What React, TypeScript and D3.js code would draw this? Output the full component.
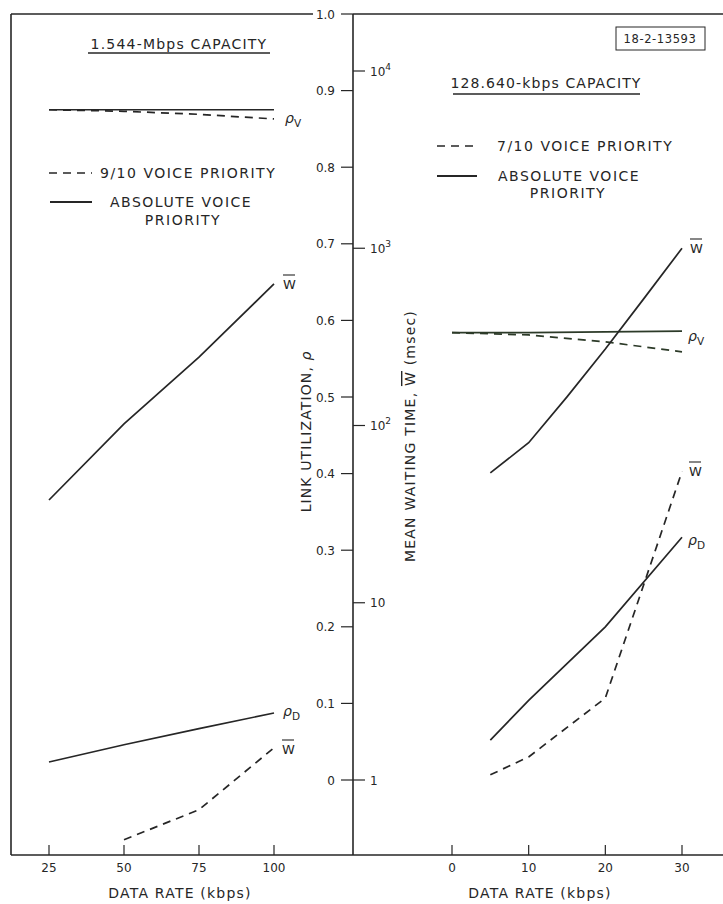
import React from "react";
import * as d3 from "d3";

// left panel: 1.544-Mbps capacity
const leftRate = [25, 50, 75, 100];
const leftRhoVAbs = [0.875, 0.875, 0.875, 0.875];
const leftRhoV910 = [0.875, 0.873, 0.869, 0.863];
const leftWAbs = [38, 102, 243, 629];
const leftRhoD = [0.0235, 0.046, 0.067, 0.0875];
const leftW910Rate = [50, 75, 100];
const leftW910 = [0.46, 0.68, 1.52];

// right panel: 128.640-kbps capacity
const rightRhoRate = [0, 10, 20, 30];
const rightRhoVAbs = [0.584, 0.584, 0.585, 0.586];
const rightRhoV710 = [0.584, 0.581, 0.572, 0.559];
const rightWRate = [5, 10, 15, 20, 25, 30];
const rightWAbs = [54, 80, 145, 270, 518, 1000];
const rightDRate = [5, 10, 20, 30];
const rightRhoD = [0.052, 0.104, 0.2, 0.317];
const rightW710 = [1.07, 1.35, 2.9, 55];

const leftTicks = [25, 50, 75, 100];
const rightTicks = [0, 10, 20, 30];
const rhoTicks = [0, 0.1, 0.2, 0.3, 0.4, 0.5, 0.6, 0.7, 0.8, 0.9, 1.0];
const wTicks = [1, 10, 100, 1000, 10000];

const ink = "#262626";
const font = "DejaVu Sans";

export default function App() {
  const xL = d3.scaleLinear().domain([25, 100]).range([49, 274]);
  const xR = d3.scaleLinear().domain([0, 30]).range([452, 682]);
  const yRho = d3.scaleLinear().domain([0, 1]).range([780, 14]);
  const yW = d3.scaleLog().domain([1, 10000]).range([780, 71]);

  const path = (xs: number[], ys: number[], x: any, y: any) =>
    d3.line<number>()
      .x((_, i) => x(xs[i]))
      .y((d) => y(d))(ys) || "";

  const axisX = 353;
  const bottom = 855;

  const rhoLabel = (x: number, y: number, sub: string) => (
    <text x={x} y={y} fontFamily={font} fontSize={14} fill={ink} fontStyle="italic">
      ρ
      <tspan dy={4} fontSize={10.5} fontStyle="normal">{sub}</tspan>
    </text>
  );
  const wLabel = (x: number, y: number) => (
    <g>
      <text x={x} y={y} fontFamily={font} fontSize={13} fill={ink}>W</text>
      <line x1={x} x2={x + 12} y1={y - 14} y2={y - 14} stroke={ink} strokeWidth={1.1} />
    </g>
  );

  const txt = { fontFamily: font, fontSize: 14, fill: ink, letterSpacing: 1.5 } as any;
  const tick = { fontFamily: font, fontSize: 12, fill: ink } as any;

  return (
    <svg width={723} height={904} style={{ position: "absolute", left: 0, top: 0, background: "#fff" }}>
      <rect width={723} height={904} fill="#fff" />
      {/* frame */}
      <g stroke={ink} strokeWidth={1.6} fill="none">
        <line x1={11} x2={11} y1={14} y2={bottom} />
        <line x1={11} x2={313} y1={14} y2={14} />
        <line x1={axisX} x2={723} y1={14} y2={14} />
        <line x1={axisX} x2={axisX} y1={14} y2={bottom} />
        <line x1={11} x2={723} y1={bottom} y2={bottom} />
      </g>

      {/* rho axis (left of center) */}
      {rhoTicks.map((t) => (
        <g key={"r" + t}>
          <line x1={axisX - 12} x2={axisX} y1={yRho(t)} y2={yRho(t)} stroke={ink} strokeWidth={1.2} />
          <text x={axisX - 18} y={yRho(t) + 4.5} textAnchor="end" {...tick}>
            {t === 0 ? "0" : t.toFixed(1)}
          </text>
        </g>
      ))}
      {/* W axis (right of center) */}
      {wTicks.map((t) => {
        const e = Math.round(Math.log10(t));
        return (
          <g key={"w" + t}>
            <line x1={axisX} x2={axisX + 12} y1={yW(t)} y2={yW(t)} stroke={ink} strokeWidth={1.2} />
            <text x={axisX + 17} y={yW(t) + 4.5} {...tick}>
              {e === 0 ? "1" : "10"}
              {e > 1 ? <tspan dy={-6} fontSize={9}>{e}</tspan> : null}
            </text>
          </g>
        );
      })}

      <text transform={`translate(311,432) rotate(-90)`} textAnchor="middle" {...txt} letterSpacing={1.1}>
        LINK UTILIZATION, <tspan fontStyle="italic" letterSpacing={0}>ρ</tspan>
      </text>
      <text transform={`translate(415,436) rotate(-90)`} textAnchor="middle" {...txt} letterSpacing={1.2}>
        MEAN WAITING TIME, <tspan style={{ textDecoration: "overline" }}>W</tspan> (msec)
      </text>

      {/* x axes */}
      {leftTicks.map((t) => (
        <g key={"lx" + t}>
          <line x1={xL(t)} x2={xL(t)} y1={bottom - 10} y2={bottom} stroke={ink} strokeWidth={1.2} />
          <text x={xL(t)} y={bottom + 17} textAnchor="middle" {...tick}>{t}</text>
        </g>
      ))}
      {rightTicks.map((t) => (
        <g key={"rx" + t}>
          <line x1={xR(t)} x2={xR(t)} y1={bottom - 10} y2={bottom} stroke={ink} strokeWidth={1.2} />
          <text x={xR(t)} y={bottom + 17} textAnchor="middle" {...tick}>{t}</text>
        </g>
      ))}
      <text x={180} y={898} textAnchor="middle" {...txt} letterSpacing={1.2}>DATA RATE (kbps)</text>
      <text x={540} y={898} textAnchor="middle" {...txt} letterSpacing={1.2}>DATA RATE (kbps)</text>

      {/* left titles & legend */}
      <text x={179} y={49} textAnchor="middle" {...txt} letterSpacing={1.2}>1.544-Mbps CAPACITY</text>
      <line x1={88} x2={270} y1={53} y2={53} stroke={ink} strokeWidth={1.3} />
      <line x1={49} x2={92} y1={173} y2={173} stroke={ink} strokeWidth={1.6} strokeDasharray="8,6" />
      <text x={100} y={178} {...txt}>9/10 VOICE PRIORITY</text>
      <line x1={50} x2={92} y1={202} y2={202} stroke={ink} strokeWidth={1.8} />
      <text x={110} y={207} {...txt}>ABSOLUTE VOICE</text>
      <text x={183} y={225} textAnchor="middle" {...txt}>PRIORITY</text>

      {/* right titles & legend */}
      <rect x={616} y={27} width={89} height={23} fill="none" stroke={ink} strokeWidth={1} />
      <text x={660} y={43} textAnchor="middle" fontFamily={font} fontSize={11.5} letterSpacing={0.6} fill={ink}>18-2-13593</text>
      <text x={546} y={88} textAnchor="middle" {...txt} letterSpacing={1.1}>128.640-kbps CAPACITY</text>
      <line x1={453} x2={640} y1={94} y2={94} stroke={ink} strokeWidth={1.3} />
      <line x1={437} x2={477} y1={146} y2={146} stroke={ink} strokeWidth={1.6} strokeDasharray="8,6" />
      <text x={497} y={151} {...txt}>7/10 VOICE PRIORITY</text>
      <line x1={437} x2={477} y1={176} y2={176} stroke={ink} strokeWidth={1.8} />
      <text x={498} y={181} {...txt}>ABSOLUTE VOICE</text>
      <text x={568} y={198} textAnchor="middle" {...txt}>PRIORITY</text>

      {/* left series */}
      <g fill="none" stroke={ink} strokeWidth={1.7}>
        <path d={path(leftRate, leftRhoVAbs, xL, yRho)} />
        <path d={path(leftRate, leftRhoV910, xL, yRho)} strokeDasharray="8,6" />
        <path d={path(leftRate, leftWAbs, xL, yW)} />
        <path d={path(leftRate, leftRhoD, xL, yRho)} />
        <path d={path(leftW910Rate, leftW910, xL, yW)} strokeDasharray="8,6" />
      </g>
      {rhoLabel(285, 123, "V")}
      {wLabel(283, 289)}
      {rhoLabel(283, 716, "D")}
      {wLabel(282, 754)}

      {/* right series */}
      <g fill="none" stroke={ink} strokeWidth={1.7}>
        <path d={path(rightRhoRate, rightRhoVAbs, xR, yRho)} stroke="#2c3a28" />
        <path d={path(rightRhoRate, rightRhoV710, xR, yRho)} stroke="#2c3a28" strokeDasharray="8,6" />
        <path d={path(rightWRate, rightWAbs, xR, yW)} />
        <path d={path(rightDRate, rightRhoD, xR, yRho)} />
        <path d={path(rightDRate, rightW710, xR, yW)} strokeDasharray="8,6" />
      </g>
      {wLabel(690, 253)}
      {rhoLabel(688, 341, "V")}
      {wLabel(689, 476)}
      {rhoLabel(688, 545, "D")}
    </svg>
  );
}
